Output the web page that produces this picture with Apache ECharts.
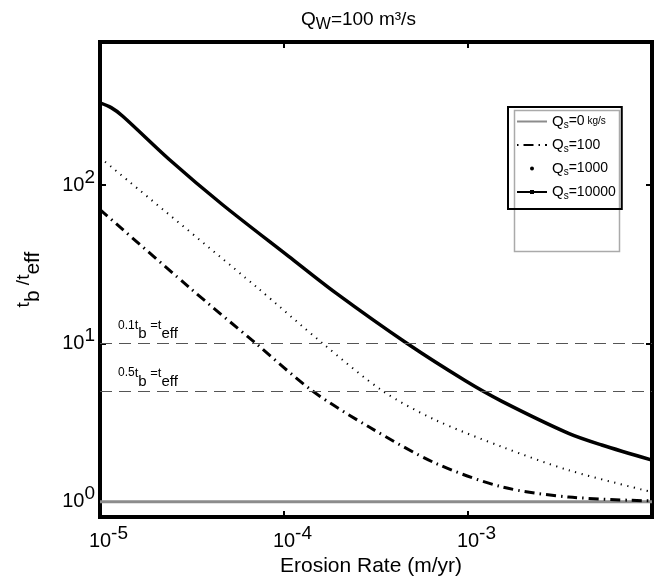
<!DOCTYPE html>
<html><head><meta charset="utf-8">
<script src="https://cdn.jsdelivr.net/npm/echarts@6/dist/echarts.min.js"></script>
<style>html,body{margin:0;padding:0;background:#fff}#c{width:655px;height:586px}</style>
</head><body><div id="c"></div>
<script>
// ---- data ----
const seriesNames = ['Qs0', 'Qs100', 'Qs1000', 'Qs10000'];
const legendLabels = ['Q_s=0 kg/s', 'Q_s=100', 'Q_s=1000', 'Q_s=10000'];
const qs0X = [1e-5, 1e-2];
const qs0Y = [1, 1];
const qs100X = [1e-5, 3.05e-5, 7.02e-5, 1.43e-4, 2.89e-4, 6.65e-4, 1.53e-3, 3.52e-3, 1e-2];
const qs100Y = [70, 22.6, 10, 5, 2.97, 1.75, 1.24, 1.07, 1.01];
const qs1000X = [1e-5, 7.02e-5, 1.62e-4, 3.44e-4, 6.65e-4, 1.53e-3, 3.52e-3, 1e-2];
const qs1000Y = [149, 22.9, 10, 5, 3.28, 2.22, 1.58, 1.15];
const qs10000X = [1e-5, 1.15e-5, 1.33e-5, 2.38e-5, 4.62e-5, 1.06e-4, 1.91e-4, 4.65e-4, 9.68e-4, 1.53e-3, 3.52e-3, 5.33e-3, 1e-2];
const qs10000Y = [330, 308, 272, 145, 75.3, 35.4, 20.8, 10.0, 5.8, 4.3, 2.70, 2.28, 1.83];
const refLevels = [10, 5, 1];
const refPrefixes = ['0.1', '0.5', ''];
const xRange = [1e-5, 1e-2];
const yRange = [0.8, 800];

// ---- helpers ----
const FONT = '"Liberation Sans", Arial, Helvetica, sans-serif';
function zip(xs, ys) { return xs.map((x, i) => [x, ys[i]]); }
function decade(v) {
  const l = Math.log10(v); const e = Math.round(l);
  return Math.abs(l - e) < 1e-6 ? e : null;
}
function st(o) { return Object.assign({ fontFamily: FONT, color: '#000', fontWeight: 'normal' }, o); }
const tickRich = {
  b: st({ fontSize: 20, lineHeight: 34, verticalAlign: 'middle' }),
  s: st({ fontSize: 19, verticalAlign: 'top' }),
  g: st({ fontSize: 19, verticalAlign: 'top', color: 'rgba(0,0,0,0)' })
};
const legendRich = {
  q: st({ fontSize: 15, lineHeight: 18, verticalAlign: 'middle' }),
  n: st({ fontSize: 14, verticalAlign: 'middle' }),
  s: st({ fontSize: 10, verticalAlign: 'bottom' }),
  k: st({ fontSize: 10, verticalAlign: 'middle' })
};
function legendFmt(name) {
  const i = seriesNames.indexOf(name);
  const txt = legendLabels[i];
  const m = txt.match(/^Q_s(=\d+)( kg\/s)?$/);
  return '{q|Q}{s|s}{n|' + m[1] + '}' + (m[2] ? '{k|' + m[2] + '}' : '');
}
const annRich = {
  p: st({ fontSize: 12, lineHeight: 22, verticalAlign: 'top' }),
  t: st({ fontSize: 13, verticalAlign: 'top' }),
  u: st({ fontSize: 15, verticalAlign: 'bottom' })
};
function annText(prefix) {
  return (prefix ? '{p|' + prefix + '}' : '{p|}') + '{t|t}{u|b}{t| =t}{u|eff}';
}

const chart = echarts.init(document.getElementById('c'), null, { renderer: 'canvas' });
const lineCommon = { type: 'line', showSymbol: false, smooth: 0.3, silent: true, animation: false, z: 3 };

const markData = refLevels.map((lv, i) => ({
  yAxis: lv,
  lineStyle: lv === 1 ? { opacity: 0 } : { color: '#555', width: 1.2, type: [12, 7] },
  label: {
    show: true, position: 'insideStartTop', distance: 2,
    padding: [0, 0, 0, lv === 1 ? 26 : 16],
    formatter: annText(refPrefixes[i]), rich: annRich
  }
}));

const option = {
  animation: false,
  backgroundColor: '#fff',
  title: {
    text: '{a|Q}{w|W}{a|=100 m³/s}',
    left: 296, top: 2,
    textStyle: { fontWeight: 'normal', rich: {
      a: st({ fontSize: 19, lineHeight: 26, verticalAlign: 'middle' }),
      w: st({ fontSize: 16, verticalAlign: 'bottom' })
    } }
  },
  grid: { left: 100, right: 2, top: 42, bottom: 69, show: true, borderColor: '#000', borderWidth: 4, backgroundColor: 'transparent' },
  legend: {
    orient: 'vertical', left: 508, top: 107,
    itemWidth: 30, itemHeight: 5, itemGap: 7,
    padding: [7, 6, 8, 8],
    borderColor: '#000', borderWidth: 2, backgroundColor: 'transparent',
    formatter: legendFmt,
    textStyle: { rich: legendRich },
    data: [
      { name: 'Qs0', itemStyle: { opacity: 0 } },
      { name: 'Qs100', itemStyle: { opacity: 0 }, lineStyle: { dashOffset: 15 } },
      { name: 'Qs1000', lineStyle: { opacity: 0 } },
      { name: 'Qs10000' }
    ],
    z: 5
  },
  graphic: [{
    type: 'rect', left: 512, top: 108, z: 1,
    shape: { width: 105, height: 141 },
    style: { fill: 'none', stroke: '#aaa', lineWidth: 1.5 }
  }],
  xAxis: [{
    type: 'log', logBase: 10, min: xRange[0], max: xRange[1], position: 'bottom',
    axisLine: { show: false },
    axisTick: { show: true, inside: true, length: 6, lineStyle: { color: '#000', width: 2 } },
    splitLine: { show: false },
    axisLabel: {
      margin: 7, formatter: v => { const e = decade(v); return (e === null || e >= -2) ? '' : '{g|' + e + '}{b|10}{s|' + e + '}'; },
      rich: tickRich
    },
    name: 'Erosion Rate (m/yr)', nameLocation: 'middle', nameGap: 35,
    nameTextStyle: { fontSize: 21, fontFamily: FONT, color: '#000', padding: [0, 10, 0, 0] }
  }, {
    type: 'log', logBase: 10, min: xRange[0], max: xRange[1], position: 'top',
    axisLine: { show: false },
    axisTick: { show: true, inside: true, length: 6, lineStyle: { color: '#000', width: 2 } },
    splitLine: { show: false }, axisLabel: { show: false }
  }],
  yAxis: [{
    type: 'log', logBase: 10, min: yRange[0], max: yRange[1], position: 'left',
    axisLine: { show: false },
    axisTick: { show: true, inside: true, length: 6, lineStyle: { color: '#000', width: 2 } },
    splitLine: { show: false },
    axisLabel: {
      margin: 5, formatter: v => { const e = decade(v); return e === null ? '' : '{b|10}{s|' + e + '}'; },
      rich: tickRich
    },
    name: '{t|t}{u|b}{t| /t}{u|eff}', nameLocation: 'middle', nameGap: 56, nameRotate: 90,
    nameTextStyle: { rich: {
      t: st({ fontSize: 19, verticalAlign: 'top' }),
      u: st({ fontSize: 21, lineHeight: 30, verticalAlign: 'bottom' })
    } }
  }, {
    type: 'log', logBase: 10, min: yRange[0], max: yRange[1], position: 'right',
    axisLine: { show: false },
    axisTick: { show: true, inside: true, length: 6, lineStyle: { color: '#000', width: 2 } },
    splitLine: { show: false }, axisLabel: { show: false }
  }],
  series: [
    Object.assign({}, lineCommon, {
      name: 'Qs0', data: zip(qs0X, qs0Y), symbol: 'none', smooth: false,
      lineStyle: { color: '#8c8c8c', width: 3 }, itemStyle: { color: '#8c8c8c' },
      markLine: { silent: true, symbol: ['none', 'none'], animation: false, data: markData }
    }),
    Object.assign({}, lineCommon, {
      name: 'Qs100', data: zip(qs100X, qs100Y), symbol: 'none',
      lineStyle: { color: '#000', width: 3, type: [10, 5, 1.5, 5], cap: 'butt' }, itemStyle: { color: '#000' }
    }),
    Object.assign({}, lineCommon, {
      name: 'Qs1000', data: zip(qs1000X, qs1000Y), symbol: 'circle',
      lineStyle: { color: '#000', width: 2, type: [1.2, 5.5], cap: 'butt' }, itemStyle: { color: '#000' }
    }),
    Object.assign({}, lineCommon, {
      name: 'Qs10000', data: zip(qs10000X, qs10000Y), symbol: 'rect',
      lineStyle: { color: '#000', width: 3.5 }, itemStyle: { color: '#000' }
    })
  ]
};
chart.setOption(option);
</script>
</body></html>
